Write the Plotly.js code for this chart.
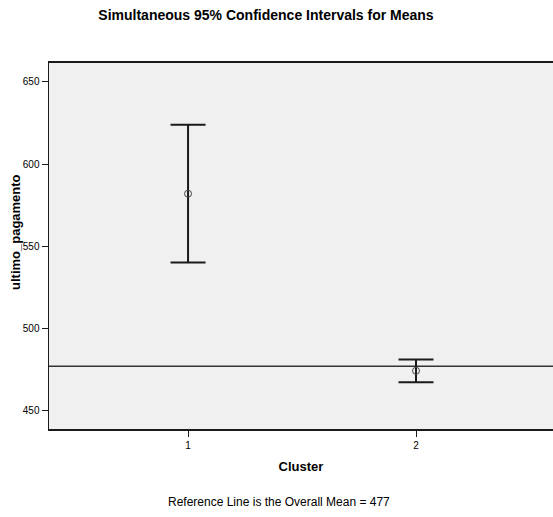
<!DOCTYPE html>
<html>
<head>
<meta charset="utf-8">
<script src="https://cdn.plot.ly/plotly-3.0.1.min.js"></script>
<style>
  html, body { margin: 0; padding: 0; background: #ffffff; overflow: hidden; }
  #chart { width: 553px; height: 517px; }
</style>
</head>
<body>
<div id="chart"></div>
<script>
// Cluster means of ultimo_pagamento with simultaneous 95% confidence limits
const clusters = [1, 2];
const clusterLabels = ['1', '2'];
const means = [582, 474.3];
const lowerCI = [540.2, 467.4];
const upperCI = [624.0, 481.2];
const overallMean = 477;

const plusErr = upperCI.map((u, i) => u - means[i]);
const minusErr = means.map((m, i) => m - lowerCI[i]);

const baseFont = 'Liberation Sans, Arial, sans-serif';
const ink = '#1a1a1a';

const trace = {
  type: 'scatter',
  mode: 'markers',
  x: clusters,
  y: means,
  marker: {
    symbol: 'circle-open',
    size: 7,
    color: '#444444',
    line: { width: 1, color: '#444444' }
  },
  error_y: {
    type: 'data',
    symmetric: false,
    array: plusErr,
    arrayminus: minusErr,
    color: ink,
    thickness: 2,
    width: 17.5
  },
  hoverinfo: 'x+y',
  showlegend: false
};

const layout = {
  width: 553,
  height: 517,
  paper_bgcolor: '#ffffff',
  plot_bgcolor: '#f0f0f0',
  margin: { l: 49, r: 0, t: 63, b: 88 },
  font: { family: baseFont, size: 10, color: ink },
  title: {
    text: '<b>Simultaneous 95% Confidence Intervals for Means</b>',
    font: { family: baseFont, size: 14, color: '#000000' },
    x: 266 / 553,
    xanchor: 'center',
    xref: 'container',
    y: 1 - 15 / 517,
    yanchor: 'middle',
    yref: 'container'
  },
  xaxis: {
    range: [0.39, 2.601],
    tickmode: 'array',
    tickvals: clusters,
    ticktext: clusterLabels,
    ticks: 'outside',
    ticklen: 6,
    tickwidth: 1,
    tickcolor: ink,
    showgrid: false,
    zeroline: false,
    showline: true,
    linecolor: ink,
    linewidth: 2,
    mirror: true,
    tickfont: { family: baseFont, size: 10, color: '#000000' },
    title: {
      text: '<b>Cluster</b>',
      font: { family: baseFont, size: 13, color: '#000000' },
      standoff: 12
    }
  },
  yaxis: {
    range: [438.9, 661.5],
    tickmode: 'array',
    tickvals: [450, 500, 550, 600, 650],
    ticks: 'outside',
    ticklen: 6,
    tickwidth: 1,
    tickcolor: ink,
    showgrid: false,
    zeroline: false,
    showline: true,
    linecolor: ink,
    linewidth: 1.5,
    mirror: false,
    tickfont: { family: baseFont, size: 10, color: '#000000' }
  },
  shapes: [
    {
      type: 'line',
      xref: 'paper',
      x0: 0,
      x1: 1,
      yref: 'y',
      y0: overallMean,
      y1: overallMean,
      line: { color: '#333333', width: 1.5 },
      layer: 'below'
    }
  ],
  annotations: [
    {
      // vertical axis title, set slightly above the plot centre
      text: '<b>ultimo_pagamento</b>',
      textangle: -90,
      xref: 'paper',
      yref: 'paper',
      x: 0,
      xshift: -33,
      y: (429 - 232) / 366,
      xanchor: 'center',
      yanchor: 'middle',
      showarrow: false,
      font: { family: baseFont, size: 13, color: '#000000' }
    },
    {
      text: 'Reference Line is the Overall Mean = ' + overallMean,
      xref: 'paper',
      yref: 'paper',
      x: (279 - 49) / 504,
      y: -0.2,
      xanchor: 'center',
      yanchor: 'middle',
      showarrow: false,
      font: { family: baseFont, size: 12, color: '#000000' }
    }
  ]
};

Plotly.newPlot('chart', [trace], layout, { displayModeBar: false, staticPlot: true });
</script>
</body>
</html>
